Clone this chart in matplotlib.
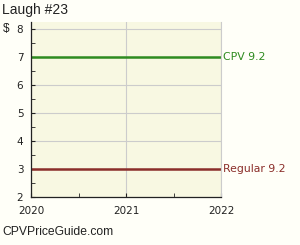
import matplotlib
matplotlib.use("Agg")
import matplotlib.pyplot as plt

title = "Laugh #23"
years = [2020, 2022]
cpv_values = [7, 7]
regular_values = [3, 3]
cpv_label = "CPV 9.2"
regular_label = "Regular 9.2"
yticks = [2, 3, 4, 5, 6, 7, 8]
xticks = [2020, 2021, 2022]

fig = plt.figure(figsize=(3.0, 2.45), dpi=100)
fig.patch.set_facecolor("#FFFFF8")
ax = fig.add_axes([31/300, 48/245, 190/300, 175/245])
ax.set_facecolor("#F8F8E2")

ax.set_xlim(2020, 2022)
ax.set_ylim(2, 8.25)
ax.set_yticks(yticks)
ax.set_yticks([y + 0.5 for y in yticks[:-1]], minor=True)
ax.set_xticks(xticks)
ax.set_xticks([2020.5, 2021.5], minor=True)
ax.grid(True, which="major", color="#CCCCCC", linewidth=0.8)
ax.set_axisbelow(True)

ax.plot(years, cpv_values, color="#2E8B1F", linewidth=1.8, solid_capstyle="butt")
ax.plot(years, regular_values, color="#8B2E2A", linewidth=1.8, solid_capstyle="butt")

ax.tick_params(axis="both", which="both", direction="in", labelsize=7.5, colors="#222222")
ax.tick_params(axis="both", which="major", length=3)
ax.tick_params(axis="both", which="minor", length=3)
ax.tick_params(axis="y", pad=5.5)
ax.tick_params(axis="x", pad=6.5)

for s in ["left", "bottom"]:
    ax.spines[s].set_color("#222222")
    ax.spines[s].set_linewidth(0.9)
ax.spines["top"].set_visible(False)
ax.spines["right"].set_color("#CCCCCC")
ax.spines["right"].set_linewidth(0.8)

ax.annotate(cpv_label, xy=(years[-1], cpv_values[-1]), xytext=(1.5, 0), textcoords="offset points",
            va="center", ha="left", color="#2E8B1F", fontsize=7.8, annotation_clip=False)
ax.annotate(regular_label, xy=(years[-1], regular_values[-1]), xytext=(1.5, 0), textcoords="offset points",
            va="center", ha="left", color="#8B2E2A", fontsize=7.8, annotation_clip=False)

fig.text(2/300, 1 - 10/245, title, fontsize=10, family="Liberation Sans", va="center", ha="left", color="#222222")
fig.text(3/300, 1 - 29/245, "$", fontsize=8.5, family="Liberation Sans", va="center", ha="left", color="#222222")
fig.text(2/300, 1 - 232/245, "CPVPriceGuide.com", fontsize=8.7, family="Liberation Sans", va="center", ha="left", color="#222222")

fig.savefig("out.png", dpi=100, facecolor=fig.get_facecolor())
